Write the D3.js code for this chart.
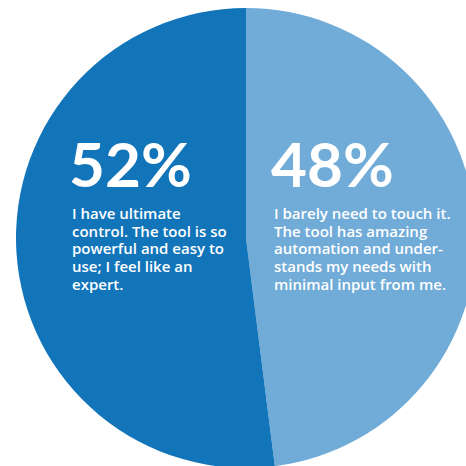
<!DOCTYPE html>
<html>
<head>
<meta charset="utf-8">
<script src="https://cdn.jsdelivr.net/npm/d3@7"></script>
<style>
  html, body { margin: 0; padding: 0; background: #fff; }
  svg { display: block; }
</style>
</head>
<body>
<svg id="chart" width="466" height="466"></svg>
<script>
// Survey answers, drawn clockwise from 12 o'clock
const categories = ["automation", "control"];
const values = [48, 52];
const percentLabels = ["48%", "52%"];
const descriptions = [
  ["I barely need to touch it.", "The tool has amazing", "automation and under-", "stands my needs with", "minimal input from me."],
  ["I have ultimate", "control. The tool is so", "powerful and easy to", "use; I feel like an", "expert."]
];
const colors = ["#71abd8", "#1275ba"];

const svg = d3.select("#chart");
const cx = 246, cy = 238, r = 230;

const pie = d3.pie().sort(null).value(d => d.value);
const arc = d3.arc().innerRadius(0).outerRadius(r);

const data = categories.map((c, i) => ({ key: c, value: values[i], pct: percentLabels[i], lines: descriptions[i], color: colors[i] }));

const g = svg.append("g").attr("transform", `translate(${cx},${cy})`);
g.selectAll("path")
  .data(pie(data))
  .join("path")
  .attr("d", arc)
  .attr("fill", d => d.data.color);

// Label blocks: left edge and baseline of the big percentage, relative to centre
const labelPos = { automation: [25, -51], control: [-177, -51] };

data.forEach(d => {
  const [lx, ly] = labelPos[d.key];
  const t = g.append("g").attr("transform", `translate(${lx},${ly})`);
  t.append("text")
    .attr("x", 0).attr("y", 0)
    .attr("fill", "#fff")
    .attr("font-family", "Lato, 'Noto Sans', sans-serif")
    .attr("font-weight", 700)
    .attr("font-size", 62)
    .text(d.pct);
  t.append("text")
    .attr("fill", "#fff")
    .attr("font-family", "'Open Sans', 'Noto Sans', sans-serif")
    .attr("font-weight", 600)
    .attr("font-size", 15)
    .selectAll("tspan")
    .data(d.lines)
    .join("tspan")
    .attr("x", 3)
    .attr("y", (l, i) => 32 + i * 17.7)
    .text(l => l);
});
</script>
</body>
</html>
